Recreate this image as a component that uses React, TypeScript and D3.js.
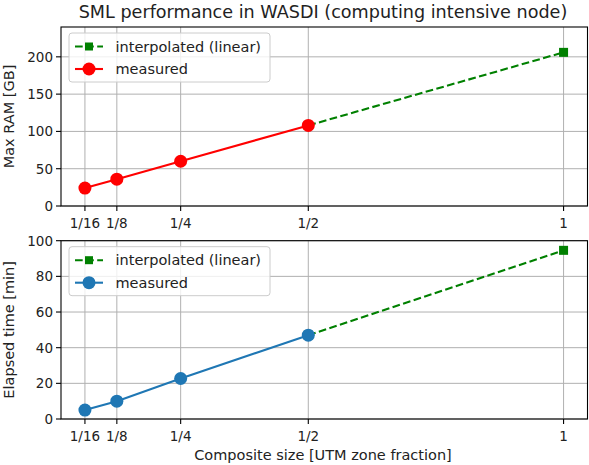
import React from "react";
import * as d3 from "d3";

const fractions = [1 / 16, 1 / 8, 1 / 4, 1 / 2];
const xTickValues = [1 / 16, 1 / 8, 1 / 4, 1 / 2, 1];
const xTickLabels = ["1/16", "1/8", "1/4", "1/2", "1"];
const ramMeasured = [24, 36, 60, 108];
const ramInterpX = [1 / 2, 1];
const ramInterp = [108, 206];
const timeMeasured = [5, 10, 22.7, 47];
const timeInterpX = [1 / 2, 1];
const timeInterp = [47, 94.6];
const ramTicks = [0, 50, 100, 150, 200];
const timeTicks = [0, 20, 40, 60, 80, 100];

const W = 589;
const H = 465;
const FONT = "DejaVu Sans, sans-serif";
const FS = 13.5;
const LFS = 14.5;

const left = 61;
const right = 587.5;
const x = d3.scaleLinear().domain([0.015625, 1.046875]).range([left, right]);

type PanelProps = {
  top: number;
  bottom: number;
  yMax: number;
  yTicks: number[];
  measured: number[];
  interpX: number[];
  interp: number[];
  color: string;
  ylabel: string;
};

function Panel({ top, bottom, yMax, yTicks, measured, interpX, interp, color, ylabel }: PanelProps) {
  const y = d3.scaleLinear().domain([0, yMax]).range([bottom, top]);
  const line = d3
    .line<[number, number]>()
    .x((d) => x(d[0]))
    .y((d) => y(d[1]));
  const mPts: [number, number][] = fractions.map((f, i) => [f, measured[i]]);
  const iPts: [number, number][] = interpX.map((f, i) => [f, interp[i]]);
  const lw = 2.1;
  const sq = 9;
  const r = 6.5;
  const lgX = 69;
  const lgY = top + 6;
  const lgW = 201;
  const lgH = 49;
  const row1 = lgY + 13.5;
  const row2 = lgY + 36;
  return (
    <g>
      {xTickValues.map((v, i) => (
        <line key={"gx" + i} x1={x(v)} x2={x(v)} y1={top} y2={bottom} stroke="#b0b0b0" strokeWidth={1} />
      ))}
      {yTicks.map((v, i) => (
        <line key={"gy" + i} x1={left} x2={right} y1={y(v)} y2={y(v)} stroke="#b0b0b0" strokeWidth={1} />
      ))}
      <path d={line(iPts) || ""} fill="none" stroke="green" strokeWidth={lw} strokeDasharray="7.7 3.4" />
      {iPts.map((p, i) => (
        <rect key={"s" + i} x={x(p[0]) - sq / 2} y={y(p[1]) - sq / 2} width={sq} height={sq} fill="green" />
      ))}
      <path d={line(mPts) || ""} fill="none" stroke={color} strokeWidth={lw} />
      {mPts.map((p, i) => (
        <circle key={"c" + i} cx={x(p[0])} cy={y(p[1])} r={r} fill={color} />
      ))}
      <rect x={left} y={top} width={right - left} height={bottom - top} fill="none" stroke="#000" strokeWidth={1.1} />
      {xTickValues.map((v, i) => (
        <g key={"tx" + i}>
          <line x1={x(v)} x2={x(v)} y1={bottom} y2={bottom + 5} stroke="#000" strokeWidth={1.1} />
          <text x={x(v)} y={bottom + 22} textAnchor="middle" fontFamily={FONT} fontSize={FS} fill="#222">
            {xTickLabels[i]}
          </text>
        </g>
      ))}
      {yTicks.map((v, i) => (
        <g key={"ty" + i}>
          <line x1={left - 5} x2={left} y1={y(v)} y2={y(v)} stroke="#000" strokeWidth={1.1} />
          <text x={left - 8} y={y(v)} dy="0.36em" textAnchor="end" fontFamily={FONT} fontSize={FS} fill="#222">
            {v}
          </text>
        </g>
      ))}
      <text
        transform={`translate(${14},${(top + bottom) / 2}) rotate(-90)`}
        textAnchor="middle"
        fontFamily={FONT}
        fontSize={LFS}
        fill="#222"
      >
        {ylabel}
      </text>
      <rect x={lgX} y={lgY} width={lgW} height={lgH} rx={3} fill="#fff" fillOpacity={0.8} stroke="#cccccc" strokeWidth={1} />
      <line x1={75} x2={103} y1={row1} y2={row1} stroke="green" strokeWidth={lw} strokeDasharray="7.7 3.4" />
      <rect x={89 - 4} y={row1 - 4} width={8} height={8} fill="green" />
      <text x={115.5} y={row1} dy="0.36em" fontFamily={FONT} fontSize={LFS} fill="#222">
        interpolated (linear)
      </text>
      <line x1={75} x2={103} y1={row2} y2={row2} stroke={color} strokeWidth={lw} />
      <circle cx={89} cy={row2} r={r} fill={color} />
      <text x={115.5} y={row2} dy="0.36em" fontFamily={FONT} fontSize={LFS} fill="#222">
        measured
      </text>
    </g>
  );
}

export default function App() {
  return (
    <svg
      width={W}
      height={H}
      viewBox={`0 0 ${W} ${H}`}
      style={{ position: "absolute", left: 0, top: 0, background: "#fff" }}
    >
      <rect x={0} y={0} width={W} height={H} fill="#fff" />
      <text x={323} y={18} textAnchor="middle" fontFamily={FONT} fontSize={17.6} fill="#222">
        SML performance in WASDI (computing intensive node)
      </text>
      <Panel
        top={27}
        bottom={206}
        yMax={240}
        yTicks={ramTicks}
        measured={ramMeasured}
        interpX={ramInterpX}
        interp={ramInterp}
        color="red"
        ylabel="Max RAM [GB]"
      />
      <Panel
        top={240.7}
        bottom={419}
        yMax={100}
        yTicks={timeTicks}
        measured={timeMeasured}
        interpX={timeInterpX}
        interp={timeInterp}
        color="#1f77b4"
        ylabel="Elapsed time [min]"
      />
      <text x={323} y={460} textAnchor="middle" fontFamily={FONT} fontSize={LFS} fill="#222">
        Composite size [UTM zone fraction]
      </text>
    </svg>
  );
}
